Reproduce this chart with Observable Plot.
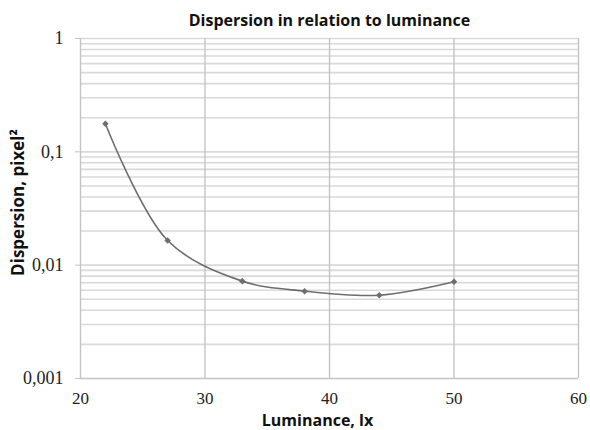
<!DOCTYPE html>
<html>
<head>
<meta charset="utf-8">
<script src="https://cdn.jsdelivr.net/npm/d3@7"></script>
<script src="https://cdn.jsdelivr.net/npm/@observablehq/plot@0.6"></script>
<style>
  html, body { margin: 0; padding: 0; background: #fff; }
</style>
</head>
<body>
<div id="chart"></div>
<script>
const titleText = "Dispersion in relation to luminance";
const xLabel = "Luminance, lx";
const yLabel = "Dispersion, pixel²";

const luminance = [22, 27, 33, 38, 44, 50];
const dispersion = [0.177, 0.0165, 0.00723, 0.0059, 0.00543, 0.00713];

const xTicks = [20, 30, 40, 50, 60];
const yTicks = [0.001, 0.01, 0.1, 1];
const yTickLabels = ["0,001", "0,01", "0,1", "1"];

const data = luminance.map((x, i) => ({x, y: dispersion[i]}));
const minorY = [];
for (const d of [0.001, 0.01, 0.1]) for (let k = 2; k <= 10; k++) minorY.push(+(d * k).toPrecision(3));

const chart = Plot.plot({
  width: 590,
  height: 430,
  marginLeft: 80,
  marginRight: 12,
  marginTop: 38,
  marginBottom: 52,
  style: {background: "#fff", overflow: "visible"},
  x: {domain: [20, 60], axis: null},
  y: {type: "log", domain: [0.001, 1]},
  marks: [
    Plot.ruleY(minorY, {stroke: "#d9d9d9", strokeWidth: 1.6}),
    Plot.ruleX(xTicks.slice(1), {stroke: "#c4c4c4", strokeWidth: 1.4}),
    Plot.ruleX([20], {stroke: "#c4c4c4", strokeWidth: 1.4}),
    Plot.ruleY([0.001], {stroke: "#c4c4c4", strokeWidth: 1.4}),
    Plot.axisY({
      ticks: yTicks,
      tickFormat: (d) => yTickLabels[yTicks.indexOf(d)],
      tickSize: 5,
      tickPadding: 12,
      stroke: "#c4c4c4",
      label: null,
      fontFamily: "Liberation Serif",
      fontSize: 18,
      fill: "#222"
    }),
    Plot.text(xTicks, {x: (d) => d, frameAnchor: "bottom", lineAnchor: "middle", dy: 20, fontFamily: "Liberation Serif", fontSize: 17, fill: "#222"}),
    Plot.line(data, {x: "x", y: "y", curve: "catmull-rom", stroke: "#6e6e6e", strokeWidth: 1.6}),
    Plot.dot(data, {x: "x", y: "y", symbol: "square", rotate: 45, r: 2.6, fill: "#6e6e6e"}),
    Plot.text([titleText], {frameAnchor: "top", lineAnchor: "middle", dy: -18, fontFamily: "Open Sans", fontWeight: "bold", fontSize: 16, fill: "#111"}),
    Plot.text([xLabel], {frameAnchor: "bottom", lineAnchor: "middle", dy: 42, dx: -12, fontFamily: "Open Sans", fontWeight: "bold", fontSize: 16, fill: "#111"}),
    Plot.text([yLabel], {frameAnchor: "left", textAnchor: "middle", lineAnchor: "middle", dx: -62, dy: -6, rotate: -90, fontFamily: "Open Sans", fontWeight: "bold", fontSize: 17, fill: "#111"})
  ]
});
document.getElementById("chart").appendChild(chart);
</script>
</body>
</html>
